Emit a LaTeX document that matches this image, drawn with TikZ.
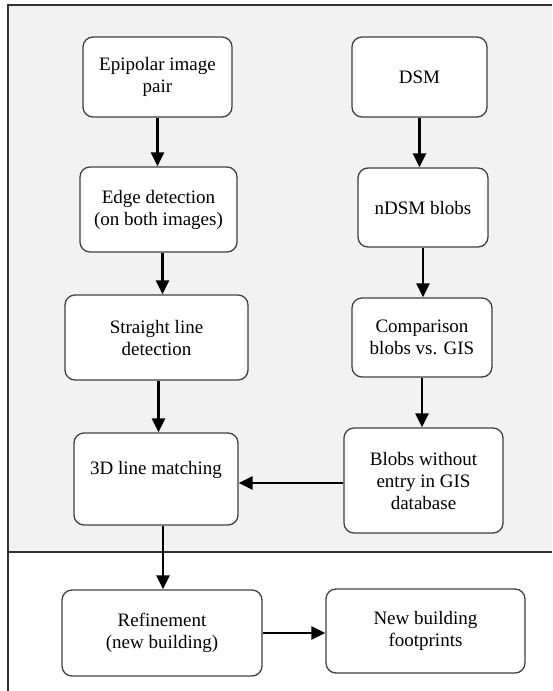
\documentclass[tikz,border=0pt]{standalone}
\usepackage{fontspec}
\setmainfont{Liberation Serif}
\usetikzlibrary{arrows.meta}
\begin{document}
\begin{tikzpicture}[x=1pt,y=1pt]
\tikzstyle{every node}+=[inner sep=0pt]
\tikzstyle{stagebox}=[draw=black!75, fill=white, line width=1.3pt, rounded corners=10pt, align=center, font=\fontsize{19}{22}\selectfont]
\tikzstyle{flow}=[line width=2.4pt, -{Triangle[length=14pt,width=13pt]}]
\useasboundingbox (0,0) rectangle (552,-691);
\fill [black!5] (8,-5) rectangle (552,-552);
\draw [black!80, line width=1.3pt] (8,-691) -- (8,-5) -- (552,-5);
\draw [black!80, line width=1.3pt] (8,-552) -- (552,-552);
\node [stagebox, minimum width=149, minimum height=80] (epi) at (157.5,-77) {Epipolar image\\pair};
\node [stagebox, minimum width=135, minimum height=80] (dsm) at (419.5,-77) {DSM};
\node [stagebox, minimum width=157, minimum height=85] (edge) at (158.5,-209.5) {Edge detection\\(on both images)};
\node [stagebox, minimum width=130, minimum height=79] (ndsm) at (423,-207.5) {nDSM blobs};
\node [stagebox, minimum width=183, minimum height=85] (sline) at (156.5,-337.5) {Straight line\\detection};
\node [stagebox, minimum width=140, minimum height=79] (comp) at (422,-337.5) {Comparison\\blobs vs. GIS};
\node [stagebox, minimum width=164, minimum height=92] (match) at (156,-479) {3D line matching\\\mbox{}};
\node [stagebox, minimum width=159, minimum height=105] (blobs) at (423.5,-480.5) {Blobs without\\entry in GIS\\database};
\node [stagebox, minimum width=200, minimum height=86] (refine) at (162,-633) {Refinement\\(new building)};
\node [stagebox, minimum width=199, minimum height=84] (foot) at (425.5,-631) {New building\\footprints};
\draw [flow] (epi.south) -- (epi.south |- edge.north);
\draw [flow] ([xshift=4pt]edge.south) -- ([xshift=4pt]edge.south |- sline.north);
\draw [flow] ([xshift=2pt]sline.south) -- ([xshift=2pt]sline.south |- match.north);
\draw [flow] ([xshift=7pt]match.south) -- ([xshift=7pt]match.south |- refine.north);
\draw [flow] (dsm.south) -- (dsm.south |- ndsm.north);
\draw [flow] (ndsm.south) -- (ndsm.south |- comp.north);
\draw [flow] (comp.south) -- (comp.south |- blobs.north);
\draw [flow] ([yshift=-2.5pt]blobs.west) -- ([yshift=-2.5pt]blobs.west -| match.east);
\draw [flow] (refine.east) -- (refine.east -| foot.west);
\end{tikzpicture}
\end{document}
